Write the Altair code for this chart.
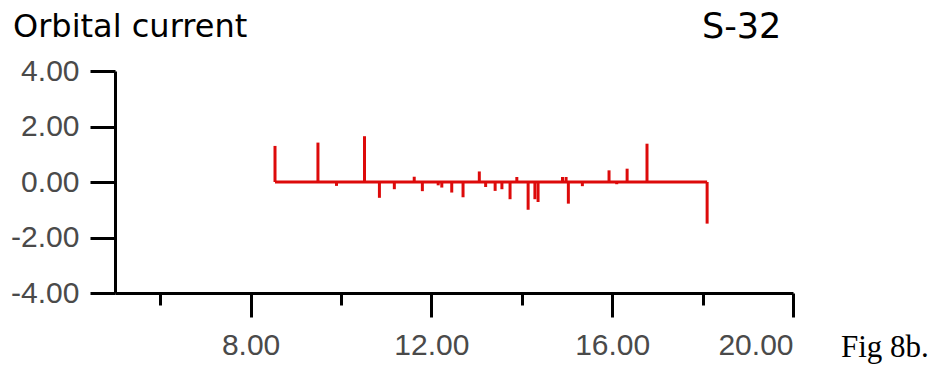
import altair as alt
import pandas as pd

# Stick positions (time) and orbital current values
stick_t = [8.54, 9.49, 9.90, 10.52, 10.85, 11.18, 11.62, 11.80, 12.15, 12.23,
           12.45, 12.70, 13.06, 13.20, 13.41, 13.56, 13.74, 13.89, 14.14, 14.29,
           14.36, 14.90, 14.98, 15.03, 15.34, 15.93, 16.10, 16.33, 16.77, 18.10]
stick_v = [1.30, 1.42, -0.14, 1.65, -0.57, -0.26, 0.19, -0.33, -0.12, -0.20,
           -0.38, -0.55, 0.38, -0.18, -0.32, -0.26, -0.62, 0.18, -1.00, -0.62,
           -0.72, 0.18, 0.18, -0.78, -0.15, 0.42, -0.08, 0.48, 1.38, -1.50]

x_tick_values = [6, 8, 10, 12, 14, 16, 18, 20]
y_tick_values = [-4, -3, -2, -1, 0, 1, 2, 3, 4]

RED = "#dd0a0a"
LABEL_FONT = "Liberation Sans"
LABEL_COLOR = "#4a4a4a"

sticks = pd.DataFrame({"t": stick_t, "v": stick_v, "base": [0.0] * len(stick_t)})
baseline = pd.DataFrame({"t0": [min(stick_t)], "t1": [max(stick_t)], "v": [0.0]})

x_scale = alt.Scale(domain=[5, 20], nice=False, zero=False)
y_scale = alt.Scale(domain=[-4, 4], nice=False)

# plain hyphen for negatives, two decimals
fmt = "(datum.value < 0 ? '-' : '') + format(abs(datum.value), '.2f')"

x_axis = alt.Axis(
    values=x_tick_values,
    labelExpr=f"datum.value % 4 == 0 ? {fmt} : ''",
    tickSize={"condition": {"test": "datum.value % 4 == 0", "value": 24}, "value": 12},
    tickWidth=3, tickColor="black", domainWidth=3, domainColor="black",
    labelFont=LABEL_FONT, labelFontSize=30, labelColor=LABEL_COLOR,
    labelPadding=13, grid=False, title=None,
)
y_axis = alt.Axis(
    values=y_tick_values,
    labelExpr=f"datum.value % 2 == 0 ? {fmt} : ''",
    tickSize={"condition": {"test": "datum.value % 2 == 0", "value": 25}, "value": 13},
    tickWidth=3, tickColor="black", domainWidth=3, domainColor="black",
    labelFont=LABEL_FONT, labelFontSize=30, labelColor=LABEL_COLOR,
    labelPadding=11, grid=False, title=None,
)

stick_layer = alt.Chart(sticks).mark_rule(color=RED, strokeWidth=3).encode(
    x=alt.X("t:Q", scale=x_scale, axis=x_axis),
    y=alt.Y("base:Q", scale=y_scale, axis=y_axis),
    y2="v:Q",
)

base_layer = alt.Chart(baseline).mark_rule(color=RED, strokeWidth=3).encode(
    x="t0:Q", x2="t1:Q", y="v:Q",
)


def label(text, x, y, font, size, color="black"):
    return alt.Chart(pd.DataFrame({"s": [text]})).mark_text(
        align="left", baseline="alphabetic", font=font, fontSize=size, color=color
    ).encode(x=alt.value(x), y=alt.value(y), text="s:N")


chart = alt.layer(
    base_layer,
    stick_layer,
    label("Orbital current", -102, -34, "DejaVu Sans", 32),
    label("S-32", 587, -33, "DejaVu Sans", 35),
    label("Fig 8b.", 726, 286, "Liberation Serif", 31),
).properties(
    width=678, height=222,
    autosize="none",
    background="white",
    padding={"left": 115, "top": 71, "right": 143, "bottom": 85},
).configure_view(strokeWidth=0)

chart.save("out.html", embed_options={"renderer": "svg", "actions": False})
